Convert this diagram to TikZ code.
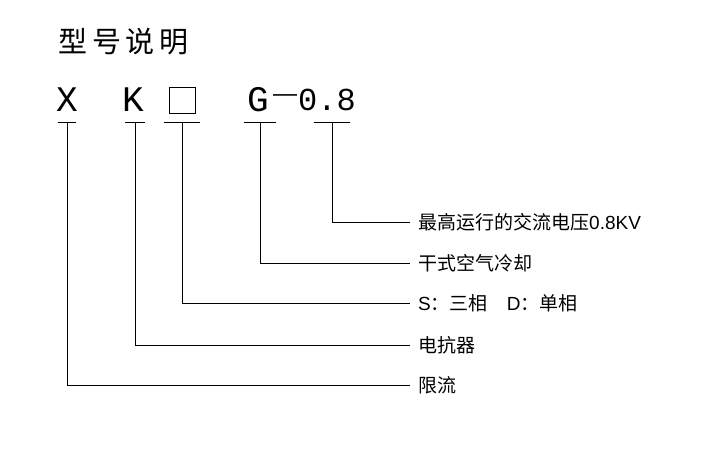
\documentclass[tikz,border=0pt]{standalone}
\usepackage{fontspec}
\setmainfont{Noto Sans CJK SC}
\newfontfamily\latin{Liberation Sans}
\newfontfamily\codefont{Liberation Mono}
\begin{document}
\begin{tikzpicture}[x=1pt,y=-1pt,
  lead/.style={draw=black,line width=0.8pt},
  lab/.style={anchor=west,inner sep=0pt,font=\fontsize{19}{19}\selectfont},
  code/.style={inner sep=0pt,font=\codefont\fontsize{36}{36}\selectfont}]
\useasboundingbox[fill=white] (0,0) rectangle (723,464);
\node[anchor=west,inner sep=0pt,font=\fontsize{29}{29}\selectfont] (title) at (58,42) {型\,号\,说\,明};
\node[code] (cx) at (67,100) {X};
\node[code] (ck) at (133,100) {K};
\node[draw,line width=0.8pt,minimum width=26pt,minimum height=26pt] (cb) at (182,100) {};
\node[code] (cg) at (258,100) {G};
\node[inner sep=0pt,font=\latin\fontsize{24}{24}\selectfont] (cd) at (285,98) {—};
\node[code,font=\codefont\fontsize{32}{32}\selectfont] (c8) at (327,100) {0.8};
\coordinate (t1) at (67,122); \coordinate (t2) at (135,122); \coordinate (t3) at (182,122);
\coordinate (t4) at (260,122); \coordinate (t5) at (332,122);
\draw[lead] (58,122) -- (76,122);
\draw[lead] (125,122) -- (145,122);
\draw[lead] (164,122) -- (200,122);
\draw[lead] (244,122) -- (276,122);
\draw[lead] (314,122) -- (350,122);
\node[lab] (l5) at (418,222) {最高运行的交流电压{\latin 0.8KV}};
\node[lab] (l4) at (418,263) {干式空气冷却};
\node[lab] (l3) at (418,303) {{\latin S}：三相\quad{\latin D}：单相};
\node[lab] (l2) at (418,345) {电抗器};
\node[lab] (l1) at (418,385) {限流};
\draw[lead] (t5) |- ([xshift=-8pt]l5.west);
\draw[lead] (t4) |- ([xshift=-8pt]l4.west);
\draw[lead] (t3) |- ([xshift=-8pt]l3.west);
\draw[lead] (t2) |- ([xshift=-8pt]l2.west);
\draw[lead] (t1) |- ([xshift=-8pt]l1.west);
\end{tikzpicture}
\end{document}
